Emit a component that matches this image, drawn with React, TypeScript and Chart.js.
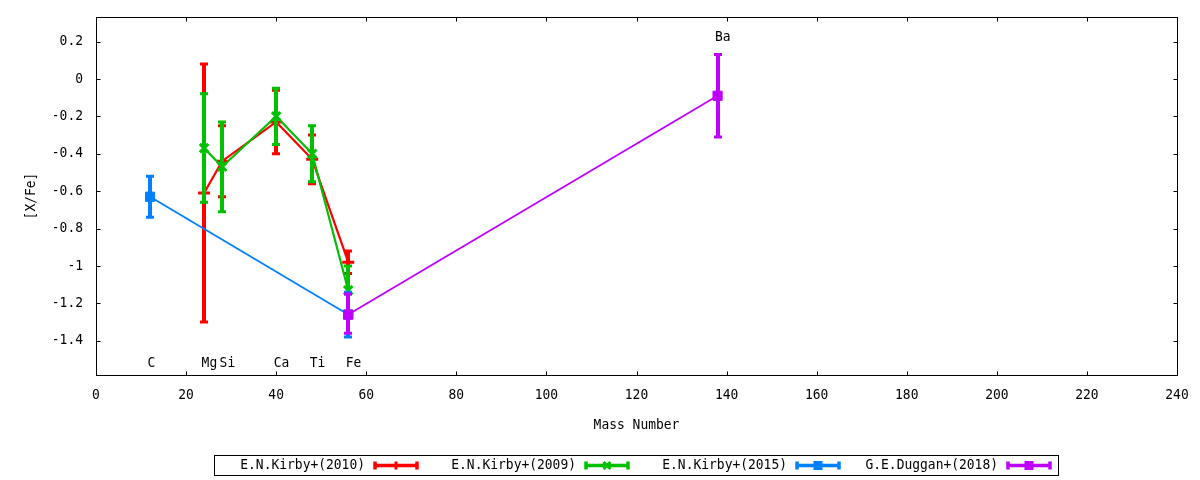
import React, { useEffect, useRef } from 'react';
import { Chart, registerables } from 'chart.js';

Chart.register(...registerables);

const FONT = "'DejaVu Sans Mono', monospace";
const FONT_SIZE = 14;
const TEXT_SX = 0.925; // horizontal squeeze of the glyphs, as in the reference

// Element labels
const elementNames = ['C', 'Mg', 'Si', 'Ca', 'Ti', 'Fe', 'Ba'];
const elementMass = [12, 24, 28, 40, 48, 56, 138];
const elementLabelY = [-1.52, -1.52, -1.52, -1.52, -1.52, -1.52, 0.22];

// E.N.Kirby+(2010)
const kirby2010Mass = [24, 28, 40, 48, 56];
const kirby2010Value = [-0.61, -0.44, -0.23, -0.43, -0.98];
const kirby2010Low = [-1.3, -0.63, -0.4, -0.56, -1.04];
const kirby2010High = [0.08, -0.25, -0.06, -0.3, -0.92];

// E.N.Kirby+(2009)
const kirby2009Mass = [24, 28, 40, 48, 56];
const kirby2009Value = [-0.37, -0.47, -0.2, -0.4, -1.13];
const kirby2009Low = [-0.66, -0.71, -0.35, -0.55, -1.15];
const kirby2009High = [-0.08, -0.23, -0.05, -0.25, -1.0];

// E.N.Kirby+(2015)
const kirby2015Mass = [12, 56];
const kirby2015Value = [-0.63, -1.26];
const kirby2015Low = [-0.74, -1.38];
const kirby2015High = [-0.52, -1.14];

// G.E.Duggan+(2018)
const duggan2018Mass = [56, 138];
const duggan2018Value = [-1.26, -0.09];
const duggan2018Low = [-1.36, -0.31];
const duggan2018High = [-1.15, 0.13];

const seriesLabels = ['E.N.Kirby+(2010)', 'E.N.Kirby+(2009)', 'E.N.Kirby+(2015)', 'G.E.Duggan+(2018)'];
const seriesColors = ['#ff0000', '#00c000', '#0080ff', '#c000ff'];
const seriesPointStyles = ['cross', 'crossRot', 'rect', 'rect'];

const xTicks = [0, 20, 40, 60, 80, 100, 120, 140, 160, 180, 200, 220, 240];
const yTicks = [0.2, 0, -0.2, -0.4, -0.6, -0.8, -1, -1.2, -1.4];

const seriesMass = [kirby2010Mass, kirby2009Mass, kirby2015Mass, duggan2018Mass];
const seriesValue = [kirby2010Value, kirby2009Value, kirby2015Value, duggan2018Value];
const seriesLow = [kirby2010Low, kirby2009Low, kirby2015Low, duggan2018Low];
const seriesHigh = [kirby2010High, kirby2009High, kirby2015High, duggan2018High];

function drawMarker(ctx: CanvasRenderingContext2D, style: string, x: number, y: number, color: string) {
  ctx.save();
  ctx.strokeStyle = color;
  ctx.fillStyle = color;
  if (style === 'cross') {
    ctx.lineWidth = 3;
    ctx.beginPath();
    ctx.moveTo(x - 4, y);
    ctx.lineTo(x + 4, y);
    ctx.moveTo(x, y - 4);
    ctx.lineTo(x, y + 4);
    ctx.stroke();
  } else if (style === 'crossRot') {
    ctx.lineWidth = 3;
    ctx.beginPath();
    ctx.moveTo(x - 3.5, y - 3.5);
    ctx.lineTo(x + 3.5, y + 3.5);
    ctx.moveTo(x - 3.5, y + 3.5);
    ctx.lineTo(x + 3.5, y - 3.5);
    ctx.stroke();
  } else {
    ctx.fillRect(x - 4.5, y - 4.5, 9, 9);
  }
  ctx.restore();
}

const decorPlugin = {
  id: 'gnuplotDecor',
  afterDatasetDraw(chart: any, args: any) {
    const i = args.index;
    const ctx = chart.ctx as CanvasRenderingContext2D;
    const xs = chart.scales.x;
    const ys = chart.scales.y;
    ctx.save();
    ctx.strokeStyle = seriesColors[i];
    ctx.lineCap = 'butt';
    // vertical bars
    ctx.lineWidth = 4;
    ctx.beginPath();
    seriesMass[i].forEach((m, k) => {
      const px = Math.round(xs.getPixelForValue(m));
      const pl = ys.getPixelForValue(seriesLow[i][k]);
      const ph = ys.getPixelForValue(seriesHigh[i][k]);
      ctx.moveTo(px, pl);
      ctx.lineTo(px, ph);
    });
    ctx.stroke();
    // caps
    ctx.lineWidth = 3;
    ctx.beginPath();
    seriesMass[i].forEach((m, k) => {
      const px = Math.round(xs.getPixelForValue(m));
      const pl = ys.getPixelForValue(seriesLow[i][k]);
      const ph = ys.getPixelForValue(seriesHigh[i][k]);
      ctx.moveTo(px - 4, pl);
      ctx.lineTo(px + 4, pl);
      ctx.moveTo(px - 4, ph);
      ctx.lineTo(px + 4, ph);
    });
    ctx.stroke();
    ctx.restore();
  },
  afterDraw(chart: any) {
    const ctx = chart.ctx as CanvasRenderingContext2D;
    const { left, right, top, bottom } = chart.chartArea;
    const xs = chart.scales.x;
    const ys = chart.scales.y;
    ctx.save();
    // frame
    ctx.strokeStyle = '#000';
    ctx.lineWidth = 1;
    const L = Math.round(left) + 0.5;
    const R = Math.round(right) + 0.5;
    const T = Math.round(top) + 0.5;
    const B = Math.round(bottom) + 0.5;
    ctx.strokeRect(L, T, R - L, B - T);
    // inward tick marks, mirrored
    ctx.beginPath();
    xTicks.forEach((v) => {
      const px = Math.round(xs.getPixelForValue(v)) + 0.5;
      ctx.moveTo(px, B);
      ctx.lineTo(px, B - 4);
      ctx.moveTo(px, T);
      ctx.lineTo(px, T + 4);
    });
    yTicks.forEach((v) => {
      const py = Math.round(ys.getPixelForValue(v)) + 0.5;
      ctx.moveTo(L, py);
      ctx.lineTo(L + 4, py);
      ctx.moveTo(R, py);
      ctx.lineTo(R - 4, py);
    });
    ctx.stroke();

    // element labels
    ctx.fillStyle = '#000';
    ctx.font = `${FONT_SIZE}px ${FONT}`;
    ctx.textAlign = 'left';
    ctx.textBaseline = 'middle';
    elementNames.forEach((name, k) => {
      const px = xs.getPixelForValue(elementMass[k]);
      const py = ys.getPixelForValue(elementLabelY[k]);
      ctx.fillText(name, px - 2.5, py);
    });

    // legend
    const boxX = 214.5;
    const boxY = 455.5;
    const entryW = 211;
    ctx.strokeStyle = '#000';
    ctx.lineWidth = 1;
    ctx.strokeRect(boxX, boxY, entryW * seriesLabels.length, 20);
    ctx.textAlign = 'right';
    seriesLabels.forEach((label, k) => {
      const x0 = 214 + k * entryW;
      const cy = 465.5;
      ctx.fillStyle = '#000';
      ctx.fillText(label, x0 + 151, cy);
      const sx1 = x0 + 161;
      const sx2 = x0 + 203;
      ctx.strokeStyle = seriesColors[k];
      ctx.lineWidth = 3.5;
      ctx.beginPath();
      ctx.moveTo(sx1, cy);
      ctx.lineTo(sx2, cy);
      ctx.moveTo(sx1, cy - 4);
      ctx.lineTo(sx1, cy + 4);
      ctx.moveTo(sx2, cy - 4);
      ctx.lineTo(sx2, cy + 4);
      ctx.stroke();
      drawMarker(ctx, seriesPointStyles[k], (sx1 + sx2) / 2, cy, seriesColors[k]);
    });
    ctx.restore();
  },
};

export default function App() {
  const canvasRef = useRef<HTMLCanvasElement | null>(null);

  useEffect(() => {
    const canvas = canvasRef.current;
    if (!canvas) return;
    const c2d = canvas.getContext('2d') as any;
    if (c2d && !c2d.__squeezed) {
      const orig = c2d.fillText.bind(c2d);
      c2d.fillText = function (text: string, x: number, y: number) {
        c2d.save();
        c2d.translate(x, y);
        c2d.scale(TEXT_SX, 1);
        orig(text, 0, 0);
        c2d.restore();
      };
      c2d.__squeezed = true;
    }

    const datasets = seriesLabels.map((label, i) => ({
      label,
      data: seriesMass[i].map((m, k) => ({ x: m, y: seriesValue[i][k] })),
      showLine: true,
      borderColor: seriesColors[i],
      backgroundColor: seriesColors[i],
      borderWidth: i < 2 ? 2.2 : 1.8,
      pointStyle: seriesPointStyles[i],
      pointRadius: i < 2 ? 6 : 6.5,
      pointBorderWidth: i < 2 ? 3 : 1,
      pointBorderColor: seriesColors[i],
      pointBackgroundColor: seriesColors[i],
      order: 4 - i,
    }));

    const chart = new Chart(canvas, {
      type: 'scatter',
      data: { datasets: datasets as any },
      options: {
        animation: false,
        responsive: true,
        maintainAspectRatio: false,
        layout: { padding: { left: 0, top: 17, right: 23, bottom: 0 } },
        plugins: {
          legend: { display: false },
          tooltip: { enabled: false },
        },
        scales: {
          x: {
            type: 'linear',
            min: 0,
            max: 240,
            afterBuildTicks: (scale: any) => {
              scale.ticks = xTicks.map((v) => ({ value: v }));
            },
            afterFit: (scale: any) => {
              scale.height = 105;
              scale.paddingLeft = 0;
              scale.paddingRight = 0;
            },
            ticks: {
              font: { family: FONT, size: FONT_SIZE },
              color: '#000',
              padding: 12,
              maxRotation: 0,
              autoSkip: false,
              callback: (v: any) => String(v),
            },
            grid: { display: false, drawTicks: false },
            border: { display: false },
            title: {
              display: true,
              text: 'Mass Number',
              font: { family: FONT, size: FONT_SIZE },
              color: '#000',
              padding: { top: 0, bottom: 46 },
            },
          },
          y: {
            type: 'linear',
            min: -1.583,
            max: 0.331,
            afterBuildTicks: (scale: any) => {
              scale.ticks = yTicks.map((v) => ({ value: v }));
            },
            afterFit: (scale: any) => {
              scale.width = 96;
              scale.paddingTop = 0;
              scale.paddingBottom = 0;
            },
            ticks: {
              font: { family: FONT, size: FONT_SIZE },
              color: '#000',
              padding: 13,
              autoSkip: false,
              callback: (v: any) => String(Math.round(Number(v) * 10) / 10),
            },
            grid: { display: false, drawTicks: false },
            border: { display: false },
            title: {
              display: true,
              text: '[X/Fe]',
              font: { family: FONT, size: FONT_SIZE },
              color: '#000',
              padding: { top: 23, bottom: 0 },
            },
          },
        },
      },
      plugins: [decorPlugin as any],
    });
    return () => chart.destroy();
  }, []);

  return (
    <div style={{ position: 'fixed', left: 0, top: 0, width: 1200, height: 480, background: '#fff' }}>
      <canvas ref={canvasRef} />
    </div>
  );
}
